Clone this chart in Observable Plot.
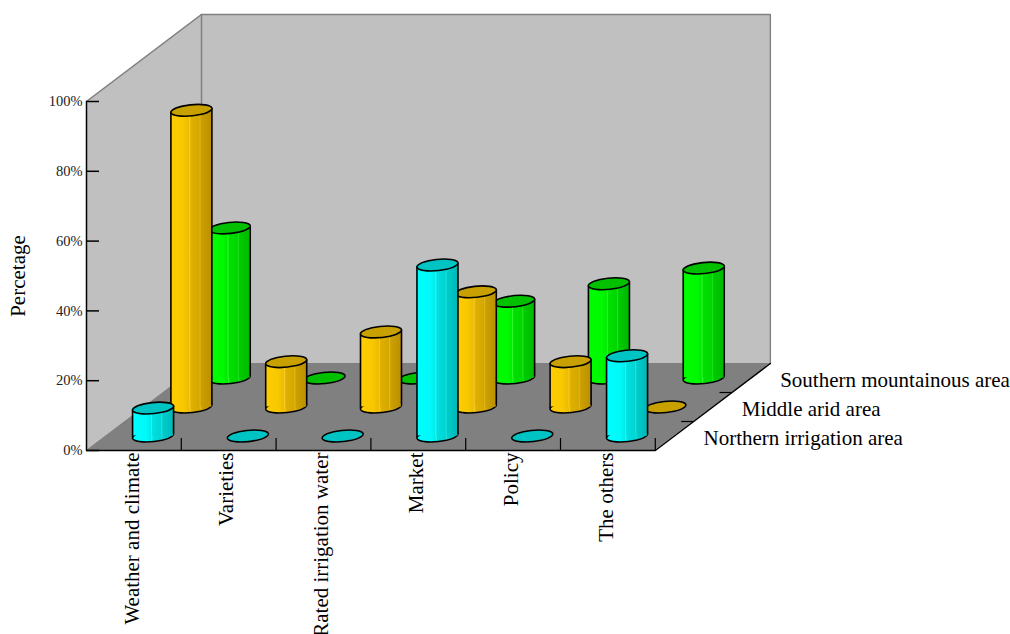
<!DOCTYPE html>
<html>
<head>
<meta charset="utf-8">
<script src="https://cdn.jsdelivr.net/npm/d3@7"></script>
<script src="https://cdn.jsdelivr.net/npm/@observablehq/plot@0.6"></script>
<style>
  html, body { margin: 0; padding: 0; background: #fff; }
</style>
</head>
<body>
<div id="chart"></div>
<script>
// ---- data ----
const categories = ["Weather and climate", "Varieties", "Rated irrigation water", "Market", "Policy", "The others"];
const seriesNames = ["Northern irrigation area", "Middle arid area", "Southern mountainous area"];
const northern = [8, 0, 0, 49, 0, 23];
const middle = [85, 13, 21.5, 33, 13, 0];
const southern = [43, 0, 0, 22, 27, 31.5];
const yTicks = [0, 20, 40, 60, 80, 100];
const yTickLabels = ["0%", "20%", "40%", "60%", "80%", "100%"];
const yTitle = "Percetage";

// ---- layout (scale units: 1 x-unit = one category, y in percent) ----
const W = 1010, H = 634;
const pxPerCat = 94.8, pxPerPct = 3.49;
const marginLeft = 86, marginBottom = 184;
const nCat = categories.length;
const depthX = 115 / pxPerCat;   // full depth, x units
const depthY = 87 / pxPerPct;    // full depth, y units
const nRows = seriesNames.length;
const rowDx = depthX / nRows, rowDy = depthY / nRows;
const R = 20.5;                   // cylinder radius in px
const Ru = R / pxPerCat;

const seriesValues = [northern, middle, southern];
const topColors = ["#00c4c4", "#c8a000", "#00c000"];
const gradStops = [
  [["0", "#00ffff"], ["0.35", "#00f8f8"], ["0.45", "#00ecec"], ["0.47", "#30f4f4"], ["0.5", "#00e0e0"], ["0.7", "#00d4d4"], ["0.72", "#20e0e0"], ["0.75", "#00cccc"], ["1", "#00b8b8"]],
  [["0", "#ffcc00"], ["0.3", "#f8c800"], ["0.45", "#ecbc00"], ["0.47", "#f8cc30"], ["0.5", "#e0b000"], ["0.7", "#d4a800"], ["0.72", "#e0b820"], ["0.75", "#cca000"], ["1", "#bb9000"]],
  [["0", "#00ff00"], ["0.35", "#00f800"], ["0.45", "#00ec00"], ["0.47", "#30f830"], ["0.5", "#00e000"], ["0.7", "#00d600"], ["0.72", "#20e420"], ["0.75", "#00cc00"], ["1", "#00b800"]]
];

const bars = [];
seriesValues.forEach((vals, r) => {
  vals.forEach((v, i) => {
    const base = (r + 0.5) * rowDy;
    bars.push({row: r, cat: categories[i], value: v, x: i + 0.5 + (r + 0.5) * rowDx, base, top: base + v});
  });
});

// tilted ellipse symbol (projected circle)
const ellipseSymbol = {
  draw(ctx, size) {
    const r = Math.sqrt(size / Math.PI);
    const a = r * 0.945, b = r * 0.33, c = -r * 0.29;
    const k = 0.5523;
    const P = (x, y) => [a * x + b * y, c * y];
    ctx.moveTo(...P(1, 0));
    ctx.bezierCurveTo(...P(1, k), ...P(k, 1), ...P(0, 1));
    ctx.bezierCurveTo(...P(-k, 1), ...P(-1, k), ...P(-1, 0));
    ctx.bezierCurveTo(...P(-1, -k), ...P(-k, -1), ...P(0, -1));
    ctx.bezierCurveTo(...P(k, -1), ...P(1, -k), ...P(1, 0));
    ctx.closePath();
  }
};

const serif = "'Liberation Serif', 'Times New Roman', serif";

const marks = [];
// walls and floor
marks.push(Plot.rect([{}], {x1: () => depthX, x2: () => nCat + depthX, y1: () => depthY, y2: () => 100 + depthY, fill: "#c0c0c0"}));
marks.push(Plot.areaY([{x: 0, y1: 0, y2: 100}, {x: depthX, y1: depthY, y2: 100 + depthY}], {x: "x", y1: "y1", y2: "y2", fill: "#c0c0c0"}));
marks.push(Plot.areaX([{y: 0, x1: 0, x2: nCat}, {y: depthY, x1: depthX, x2: nCat + depthX}], {y: "y", x1: "x1", x2: "x2", fill: "#808080"}));
// gray wall edges
marks.push(Plot.line([[0, 100], [depthX, 100 + depthY], [nCat + depthX, 100 + depthY], [nCat + depthX, depthY]], {stroke: "#808080", strokeWidth: 1.5}));
marks.push(Plot.line([[depthX, depthY], [depthX, 100 + depthY]], {stroke: "#808080", strokeWidth: 1.5}));
// black axis lines
marks.push(Plot.line([[0, 100], [0, 0], [nCat, 0], [nCat + depthX, depthY]], {stroke: "black", strokeWidth: 1.5}));
// y ticks
marks.push(Plot.ruleY(yTicks, {x1: () => 0, x2: () => 13 / pxPerCat, stroke: "black", strokeWidth: 1.5}));
// category separators
marks.push(Plot.ruleX(d3.range(1, nCat + 1), {y1: () => 0, y2: () => 12 / pxPerPct, stroke: "black", strokeWidth: 1.2}));
// depth ticks
marks.push(Plot.ruleY(d3.range(1, nRows), {
  y: k => k * rowDy,
  x1: k => nCat + k * rowDx - 12 / pxPerCat,
  x2: k => nCat + k * rowDx,
  stroke: "black", strokeWidth: 1.2
}));

// cylinders, back row first
for (let r = nRows - 1; r >= 0; r--) {
  const rowBars = bars.filter(d => d.row === r);
  const solid = rowBars.filter(d => d.value > 0);
  marks.push(Plot.dot(solid, {x: "x", y: "base", r: R, symbol: ellipseSymbol, fill: `url(#cyl${r})`, stroke: "black", strokeWidth: 1.6}));
  marks.push(Plot.rect(solid, {x1: d => d.x - Ru, x2: d => d.x + Ru, y1: "base", y2: "top", fill: `url(#cyl${r})`}));
  marks.push(Plot.ruleX(solid, {x: d => d.x - Ru, y1: "base", y2: "top", dy: 1.8, stroke: "black", strokeWidth: 1.6}));
  marks.push(Plot.ruleX(solid, {x: d => d.x + Ru, y1: "base", y2: "top", dy: -1.8, stroke: "black", strokeWidth: 1.6}));
  marks.push(Plot.dot(rowBars, {x: "x", y: "top", r: R, symbol: ellipseSymbol, fill: topColors[r], stroke: "black", strokeWidth: 1.6}));
}

// labels
marks.push(Plot.text(yTicks, {x: () => 0, y: d => d, text: (d, i) => yTickLabels[i], textAnchor: "end", dx: -4, fontSize: 14.5, fill: "#222"}));
marks.push(Plot.text([yTitle], {x: () => 0, y: () => 50, text: d => d, rotate: -90, dx: -68, fontSize: 21, fill: "black"}));
marks.push(Plot.text(categories, {x: (d, i) => i + 0.5, y: () => 0, text: d => d, rotate: -90, textAnchor: "end", dy: 2, dx: -2, fontSize: 21, fill: "black"}));
marks.push(Plot.text(seriesNames, {x: (d, k) => nCat + (k + 0.5) * rowDx, y: (d, k) => (k + 0.5) * rowDy, text: d => d, textAnchor: "start", dx: 29, dy: 2, fontSize: 21, fill: "black"}));

const svg = Plot.plot({
  width: W,
  height: H,
  marginLeft,
  marginRight: 0,
  marginTop: 0,
  marginBottom,
  x: {type: "linear", domain: [0, (W - marginLeft) / pxPerCat], axis: null},
  y: {type: "linear", domain: [0, (H - marginBottom) / pxPerPct], axis: null},
  style: {fontFamily: serif, background: "white", overflow: "visible"},
  marks
});

const defs = gradStops.map((stops, r) =>
  `<linearGradient id="cyl${r}" x1="0" y1="0" x2="1" y2="0">` +
  stops.map(([o, c]) => `<stop offset="${o}" stop-color="${c}"/>`).join("") +
  `</linearGradient>`).join("");
svg.insertAdjacentHTML("afterbegin", `<defs>${defs}</defs>`);

document.getElementById("chart").appendChild(svg);
</script>
</body>
</html>
